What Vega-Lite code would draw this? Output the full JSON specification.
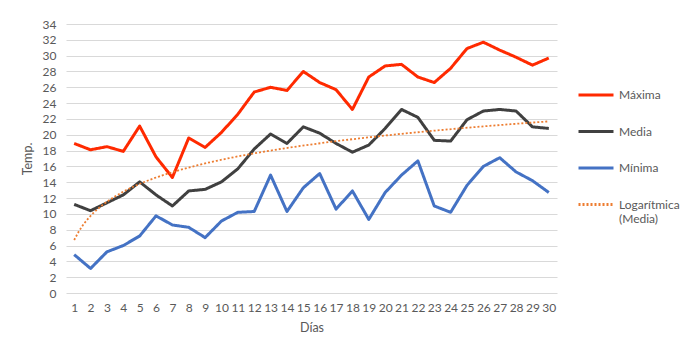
{
  "$schema": "https://vega.github.io/schema/vega-lite/v6.json",
  "width": 491,
  "height": 269,
  "autosize": {"type": "none"},
  "padding": {"left": 66, "top": 24, "right": 140, "bottom": 60},
  "background": "white",
  "config": {
    "font": "Lato",
    "view": {"stroke": null},
    "axis": {
      "labelColor": "#595959",
      "labelFontSize": 12,
      "titleColor": "#595959",
      "titleFontSize": 12.5,
      "titleFontWeight": "normal",
      "ticks": false,
      "domain": false,
      "gridColor": "#D9D9D9",
      "gridWidth": 1
    },
    "legend": {
      "labelColor": "#595959",
      "labelFontSize": 12,
      "labelLimit": 200
    }
  },
  "data": {
    "values": [
      {"Día": 1, "Máxima": 18.9, "Media": 11.2, "Mínima": 4.85},
      {"Día": 2, "Máxima": 18.1, "Media": 10.4, "Mínima": 3.1},
      {"Día": 3, "Máxima": 18.5, "Media": 11.4, "Mínima": 5.2},
      {"Día": 4, "Máxima": 17.9, "Media": 12.4, "Mínima": 6.0},
      {"Día": 5, "Máxima": 21.1, "Media": 14.05, "Mínima": 7.2},
      {"Día": 6, "Máxima": 17.2, "Media": 12.4, "Mínima": 9.75},
      {"Día": 7, "Máxima": 14.6, "Media": 11.0, "Mínima": 8.6},
      {"Día": 8, "Máxima": 19.6, "Media": 12.9, "Mínima": 8.3},
      {"Día": 9, "Máxima": 18.4, "Media": 13.1, "Mínima": 7.0},
      {"Día": 10, "Máxima": 20.3, "Media": 14.05, "Mínima": 9.1},
      {"Día": 11, "Máxima": 22.6, "Media": 15.7, "Mínima": 10.2},
      {"Día": 12, "Máxima": 25.4, "Media": 18.2, "Mínima": 10.3},
      {"Día": 13, "Máxima": 26.0, "Media": 20.1, "Mínima": 14.9},
      {"Día": 14, "Máxima": 25.6, "Media": 18.9, "Mínima": 10.3},
      {"Día": 15, "Máxima": 28.0, "Media": 21.0, "Mínima": 13.3},
      {"Día": 16, "Máxima": 26.6, "Media": 20.2, "Mínima": 15.1},
      {"Día": 17, "Máxima": 25.7, "Media": 18.9, "Mínima": 10.6},
      {"Día": 18, "Máxima": 23.2, "Media": 17.8, "Mínima": 12.9},
      {"Día": 19, "Máxima": 27.3, "Media": 18.7, "Mínima": 9.3},
      {"Día": 20, "Máxima": 28.7, "Media": 20.8, "Mínima": 12.7},
      {"Día": 21, "Máxima": 28.9, "Media": 23.2, "Mínima": 14.9},
      {"Día": 22, "Máxima": 27.3, "Media": 22.2, "Mínima": 16.7},
      {"Día": 23, "Máxima": 26.6, "Media": 19.3, "Mínima": 11.0},
      {"Día": 24, "Máxima": 28.4, "Media": 19.2, "Mínima": 10.2},
      {"Día": 25, "Máxima": 30.9, "Media": 21.9, "Mínima": 13.6},
      {"Día": 26, "Máxima": 31.7, "Media": 23.0, "Mínima": 16.0},
      {"Día": 27, "Máxima": 30.7, "Media": 23.2, "Mínima": 17.1},
      {"Día": 28, "Máxima": 29.8, "Media": 23.0, "Mínima": 15.3},
      {"Día": 29, "Máxima": 28.8, "Media": 21.0, "Mínima": 14.2},
      {"Día": 30, "Máxima": 29.7, "Media": 20.8, "Mínima": 12.7}
    ]
  },
  "transform": [{"fold": ["Máxima", "Media", "Mínima"], "as": ["serie", "temp"]}],
  "encoding": {
    "x": {
      "field": "Día",
      "type": "quantitative",
      "scale": {"domain": [0.5, 30.5], "nice": false, "zero": false},
      "axis": {
        "values": [1,2,3,4,5,6,7,8,9,10,11,12,13,14,15,16,17,18,19,20,21,22,23,24,25,26,27,28,29,30],
        "title": "Días",
        "grid": false,
        "labelPadding": 9,
        "titlePadding": 8
      }
    },
    "y": {
      "field": "temp",
      "type": "quantitative",
      "scale": {"domain": [0, 34], "nice": false},
      "axis": {
        "values": [0,2,4,6,8,10,12,14,16,18,20,22,24,26,28,30,32,34],
        "title": "Temp.",
        "labelPadding": 10,
        "titlePadding": 8
      }
    }
  },
  "layer": [
    {
      "mark": {"type": "line", "strokeWidth": 3, "strokeJoin": "round"},
      "encoding": {
        "color": {
          "field": "serie",
          "type": "nominal",
          "scale": {
            "domain": ["Máxima", "Media", "Mínima", "Logarítmica (Media)"],
            "range": ["#FF2A00", "#404040", "#4472C4", "#ED7D31"]
          },
          "legend": {
            "title": null,
            "orient": "none",
            "legendX": 511,
            "legendY": 52,
            "symbolType": "stroke",
            "symbolSize": 1225,
            "symbolStrokeWidth": 3,
            "labelOffset": 4,
            "rowPadding": 11.5,
            "labelExpr": "datum.label == 'Logarítmica (Media)' ? ['Logarítmica', '(Media)'] : datum.label"
          }
        },
        "strokeDash": {
          "field": "serie",
          "type": "nominal",
          "scale": {
            "domain": ["Máxima", "Media", "Mínima", "Logarítmica (Media)"],
            "range": [[1, 0], [1, 0], [1, 0], [2, 2]]
          },
          "legend": null
        }
      }
    },
    {
      "transform": [
        {"filter": "datum.serie == 'Media'"},
        {"regression": "temp", "on": "Día", "method": "log"}
      ],
      "mark": {"type": "line", "strokeWidth": 1.8},
      "encoding": {
        "color": {"datum": "Logarítmica (Media)"},
        "strokeDash": {"datum": "Logarítmica (Media)"}
      }
    }
  ]
}
